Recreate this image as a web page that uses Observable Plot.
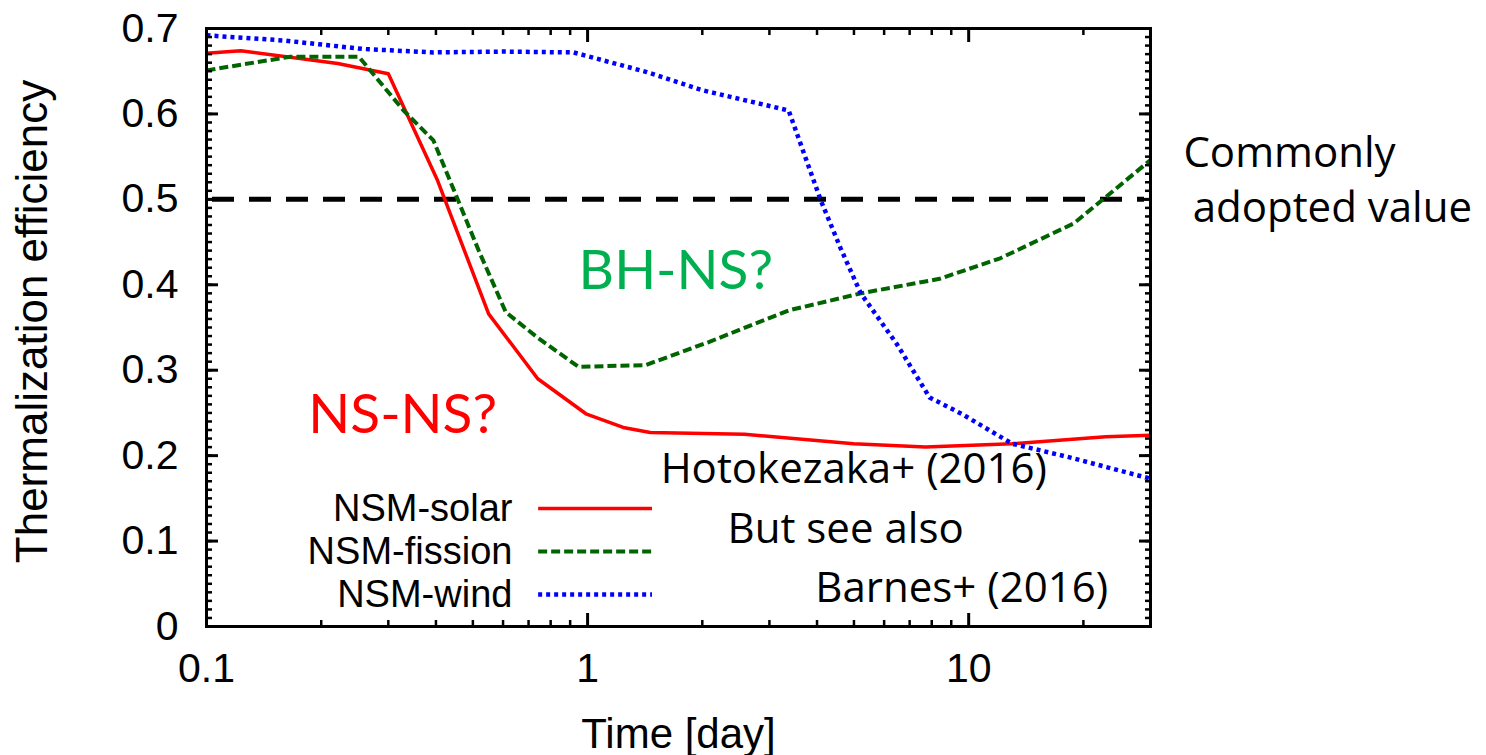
<!DOCTYPE html>
<html>
<head>
<meta charset="utf-8">
<script src="https://cdn.jsdelivr.net/npm/d3@7"></script>
<script src="https://cdn.jsdelivr.net/npm/@observablehq/plot@0.6"></script>
<style>
  html, body { margin: 0; padding: 0; background: #fff; }
  #chart svg { display: block; }
</style>
</head>
<body>
<div id="chart"></div>
<script>
// ---------------- data ----------------
const seriesNames = ["NSM-solar", "NSM-fission", "NSM-wind"];

const solarTime = [0.1, 0.123, 0.221, 0.30, 0.404, 0.55, 0.74, 0.99, 1.24, 1.46, 2.58, 4.99, 7.7, 13.0, 22.9, 30];
const solarEff  = [0.671, 0.674, 0.659, 0.647, 0.522, 0.366, 0.290, 0.249, 0.233, 0.227, 0.225, 0.214, 0.210, 0.214, 0.222, 0.224];

const fissionTime = [0.1, 0.166, 0.251, 0.329, 0.394, 0.518, 0.61, 0.74, 0.946, 1.42, 2.08, 3.37, 5.21, 8.39, 12.1, 18.9, 30];
const fissionEff  = [0.651, 0.667, 0.667, 0.604, 0.569, 0.440, 0.368, 0.338, 0.304, 0.306, 0.333, 0.370, 0.390, 0.407, 0.431, 0.472, 0.546];

const windTime = [0.1, 0.159, 0.258, 0.394, 0.602, 0.919, 1.43, 1.99, 3.37, 4.09, 4.61, 5.21, 6.47, 7.9, 9.58, 13.0, 18.4, 30];
const windEff  = [0.692, 0.686, 0.676, 0.672, 0.673, 0.672, 0.649, 0.628, 0.604, 0.499, 0.443, 0.390, 0.331, 0.268, 0.249, 0.214, 0.198, 0.173];

const commonValue = [0.5];

const xTicks = [0.1, 1, 10];
const xTickLabels = ["0.1", "1", "10"];
const xMinorTicks = [0.2, 0.3, 0.4, 0.5, 0.6, 0.7, 0.8, 0.9, 2, 3, 4, 5, 6, 7, 8, 9, 20];
const yTicks = [0, 0.1, 0.2, 0.3, 0.4, 0.5, 0.6, 0.7];
const yTickLabels = ["0", "0.1", "0.2", "0.3", "0.4", "0.5", "0.6", "0.7"];
const yMinorTicks = d3.range(0, 71).map(i => i / 100);

const xLabel = "Time [day]";
const yLabel = "Thermalization efficiency";

// ---------------- table ----------------
const toRows = (name, ts, vs) => ts.map((t, i) => ({series: name, t, v: vs[i]}));
const solarRows = toRows(seriesNames[0], solarTime, solarEff);
const fissionRows = toRows(seriesNames[1], fissionTime, fissionEff);
const windRows = toRows(seriesNames[2], windTime, windEff);

// ---------------- styles ----------------
const AX = "Liberation Sans, Arial, sans-serif";
const ANN = "'Open Sans', Lato, sans-serif";
const BIG = "Lato, 'Open Sans', sans-serif";
const styles = [
  {stroke: "#ff0000", strokeWidth: 3.5, strokeLinecap: "butt"},
  {stroke: "#006400", strokeWidth: 4, strokeDasharray: "9,4", strokeLinecap: "butt"},
  {stroke: "#0000ff", strokeWidth: 4.5, strokeDasharray: "4,4", strokeLinecap: "butt"}
];
const legendY = [0.138, 0.0878, 0.0375];

const fmtX = d => xTickLabels[xTicks.indexOf(d)];
const fmtY = d => yTickLabels[yTicks.indexOf(d)];

const chart = Plot.plot({
  width: 1486,
  height: 755,
  marginLeft: 206,
  marginRight: 336,
  marginTop: 28,
  marginBottom: 129,
  style: {fontFamily: AX, background: "#fff", color: "#000"},
  x: {type: "log", domain: [0.1, 30]},
  y: {domain: [0, 0.7]},
  marks: [
    // commonly adopted value
    Plot.ruleY(commonValue, {stroke: "#000", strokeWidth: 5, strokeDasharray: "22,15", insetLeft: 6, insetRight: 6}),
    // curves
    Plot.line(solarRows, {x: "t", y: "v", ...styles[0]}),
    Plot.line(fissionRows, {x: "t", y: "v", ...styles[1]}),
    Plot.line(windRows, {x: "t", y: "v", ...styles[2]}),
    // legend
    Plot.text(seriesNames, {x: 0.635, y: (d, i) => legendY[i], text: d => d, textAnchor: "end", lineAnchor: "middle", fontSize: 38, fontFamily: AX, fill: "#000"}),
    ...seriesNames.map((name, i) =>
      Plot.ruleY([legendY[i]], {x1: 0.744, x2: 1.48, ...styles[i]})
    ),
    // annotations
    Plot.text(["NS-NS?"], {x: 0.185, y: 0.227, textAnchor: "start", lineAnchor: "bottom", fontSize: 55, fontFamily: BIG, fill: "#ff0000"}),
    Plot.text(["BH-NS?"], {x: 0.947, y: 0.3946, textAnchor: "start", lineAnchor: "bottom", fontSize: 55, fontFamily: BIG, fill: "#00b050"}),
    Plot.text(["Hotokezaka+ (2016)"], {x: 1.555, y: 0.1674, textAnchor: "start", lineAnchor: "bottom", fontSize: 42, fontFamily: ANN, fill: "#000"}),
    Plot.text(["But see also"], {x: 2.33, y: 0.0972, textAnchor: "start", lineAnchor: "bottom", fontSize: 42, fontFamily: ANN, fill: "#000"}),
    Plot.text(["Barnes+ (2016)"], {x: 3.96, y: 0.0281, textAnchor: "start", lineAnchor: "bottom", fontSize: 42, fontFamily: ANN, fill: "#000"}),
    Plot.text(["Commonly"], {x: 36.6, y: 0.5375, textAnchor: "start", lineAnchor: "bottom", fontSize: 42, fontFamily: ANN, fill: "#000"}),
    Plot.text(["adopted value"], {x: 38.7, y: 0.473, textAnchor: "start", lineAnchor: "bottom", fontSize: 42, fontFamily: ANN, fill: "#000"}),
    // frame
    Plot.frame({stroke: "#000", strokeWidth: 3}),
    // tick marks (inward, mirrored)
    Plot.axisY({ticks: yTicks, tickSize: -12, strokeWidth: 3, tickFormat: () => "", label: null}),
    Plot.axisY({ticks: yMinorTicks, tickSize: -6, strokeWidth: 2.5, tickFormat: () => "", label: null}),
    Plot.axisY({anchor: "right", ticks: yTicks, tickSize: -12, strokeWidth: 3, tickFormat: () => "", label: null}),
    Plot.axisY({anchor: "right", ticks: yMinorTicks, tickSize: -6, strokeWidth: 2.5, tickFormat: () => "", label: null}),
    Plot.axisX({ticks: xTicks, tickSize: -13, strokeWidth: 3, tickFormat: () => "", label: null}),
    Plot.axisX({ticks: xMinorTicks, tickSize: -6, strokeWidth: 2.5, tickFormat: () => "", label: null}),
    Plot.axisX({anchor: "top", ticks: xTicks, tickSize: -13, strokeWidth: 3, tickFormat: () => "", label: null}),
    Plot.axisX({anchor: "top", ticks: xMinorTicks, tickSize: -6, strokeWidth: 2.5, tickFormat: () => "", label: null}),
    // tick labels
    Plot.axisY({ticks: yTicks, tickSize: 0, tickPadding: 28, tickFormat: fmtY, fontSize: 41, label: null}),
    Plot.axisX({ticks: xTicks, tickSize: 0, tickPadding: 26, tickFormat: fmtX, fontSize: 41, label: null}),
    // axis titles
    Plot.text([yLabel], {frameAnchor: "left", dx: -191, dy: -6, rotate: -90, textAnchor: "middle", lineAnchor: "top", fontSize: 44, fontFamily: AX, fill: "#000"}),
    Plot.text([xLabel], {frameAnchor: "bottom", dy: 121, textAnchor: "middle", lineAnchor: "bottom", fontSize: 42, fontFamily: AX, fill: "#000"})
  ]
});
document.getElementById("chart").appendChild(chart);
</script>
</body>
</html>
